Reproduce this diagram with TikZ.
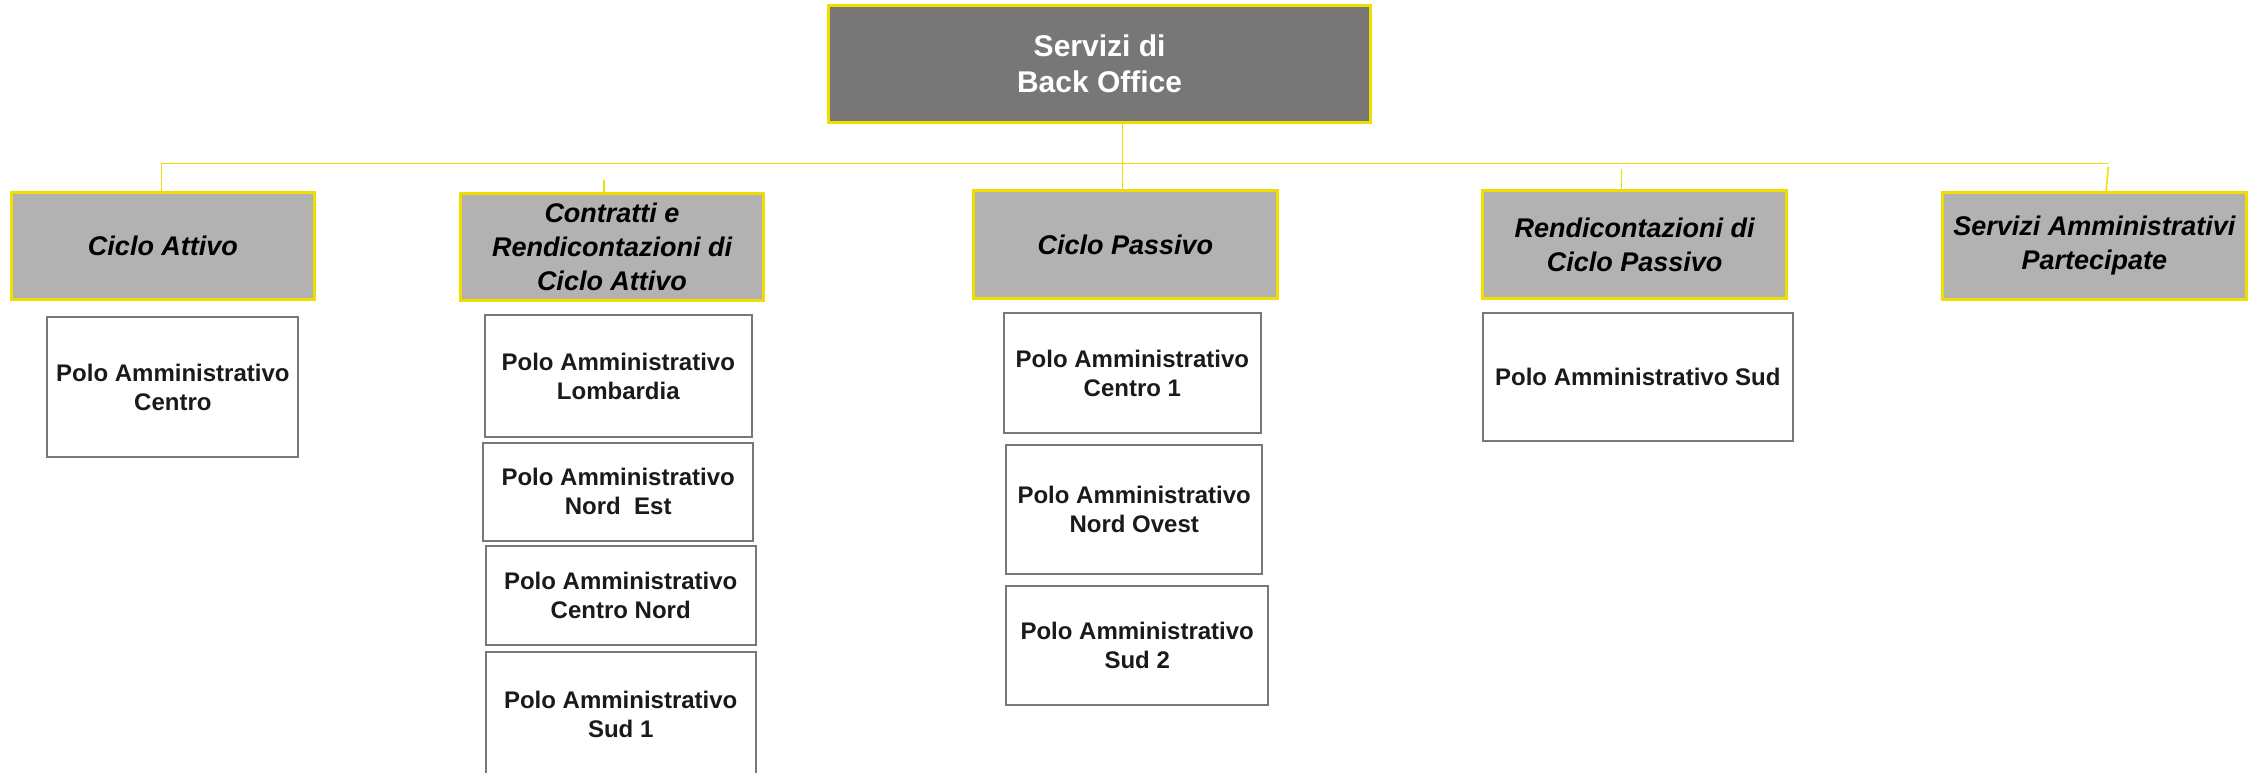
\documentclass[tikz,border=0pt]{standalone}
\usepackage{fontspec}
\setmainfont{Liberation Sans}
\definecolor{ylw}{RGB}{240,222,0}
\definecolor{topfill}{RGB}{119,119,119}
\definecolor{catfill}{RGB}{178,178,178}
\definecolor{polodraw}{RGB}{120,120,120}
\definecolor{txt}{RGB}{26,26,26}
\begin{document}
\begin{tikzpicture}[x=0.5pt,y=-0.5pt,
  topbox/.style={draw=ylw,line width=1.5pt,fill=topfill,inner sep=0pt,align=center,
    text=white,font=\fontsize{15pt}{18pt}\selectfont\bfseries},
  catbox/.style={draw=ylw,line width=1.5pt,fill=catfill,inner sep=0pt,align=center,
    text=black,font=\fontsize{13.5pt}{17pt}\selectfont\bfseries\itshape},
  polobox/.style={draw=polodraw,line width=1pt,fill=white,inner sep=0pt,align=center,
    text=txt,font=\fontsize{12pt}{14.5pt}\selectfont\bfseries},
  conn/.style={draw=ylw,line width=0.75pt}]
\useasboundingbox (0,0) rectangle (2255,772);
\clip (0,0) rectangle (2255,772);
% top
\node[topbox,minimum width=271pt,minimum height=58.5pt] (top) at (1099.6,63.5) {Servizi di\\Back Office};
% categories
\node[catbox,minimum width=151.7pt,minimum height=53.5pt] (ca) at (163,245.8) {Ciclo Attivo};
\node[catbox,minimum width=151.5pt,minimum height=53.7pt] (cr) at (612,247) {Contratti e\\Rendicontazioni di\\Ciclo Attivo};
\node[catbox,minimum width=152pt,minimum height=53.8pt] (cp) at (1125.4,244.5) {Ciclo Passivo};
\node[catbox,minimum width=151.8pt,minimum height=53.8pt] (rp) at (1634.6,244.5) {Rendicontazioni di\\Ciclo Passivo};
\node[catbox,minimum width=151.7pt,minimum height=53.5pt] (sa) at (2094.4,245.8) {Servizi Amministrativi\\Partecipate};
% polo boxes
\node[polobox,minimum width=125.5pt,minimum height=69.7pt] (p1) at (172.9,387) {Polo Amministrativo\\Centro};
\node[polobox,minimum width=133.8pt,minimum height=61pt] (p2) at (618.3,376) {Polo Amministrativo\\Lombardia};
\node[polobox,minimum width=135.2pt,minimum height=49pt] (p3) at (618.2,491.7) {Polo Amministrativo\\Nord\ \ Est};
\node[polobox,minimum width=135.2pt,minimum height=49.7pt] (p4) at (620.7,595.4) {Polo Amministrativo\\Centro Nord};
\node[polobox,minimum width=135.2pt,minimum height=62pt] (p5) at (620.7,714) {Polo Amministrativo\\Sud 1};
\node[polobox,minimum width=128.2pt,minimum height=59.7pt] (p6) at (1132.4,373) {Polo Amministrativo\\Centro 1};
\node[polobox,minimum width=128.2pt,minimum height=64.4pt] (p7) at (1134.2,509.7) {Polo Amministrativo\\Nord Ovest};
\node[polobox,minimum width=131.2pt,minimum height=59.7pt] (p8) at (1137.2,645.4) {Polo Amministrativo\\Sud 2};
\node[polobox,minimum width=155pt,minimum height=63.9pt] (p9) at (1637.8,377.2) {Polo Amministrativo Sud};
% connectors
\coordinate (hL) at (161.7,163.3);
\coordinate (hR) at (2108.3,163.3);
\coordinate (jx) at (1122.3,163.3);
\coordinate (c2) at (604,180);
\coordinate (c4) at (1621.7,169);
\coordinate (c5) at (2108.3,166.7);
\coordinate (c5b) at (2106,192.3);
\draw[conn] (hL) -- (hR);
\draw[conn] (hL) -- (hL |- ca.north);
\draw[conn] (jx |- top.south) -- (jx |- cp.north);
\draw[conn] (c2) -- (c2 |- cr.north);
\draw[conn] (c4) -- (c4 |- rp.north);
\draw[conn] (c5) -- (c5b);
\end{tikzpicture}
\end{document}
